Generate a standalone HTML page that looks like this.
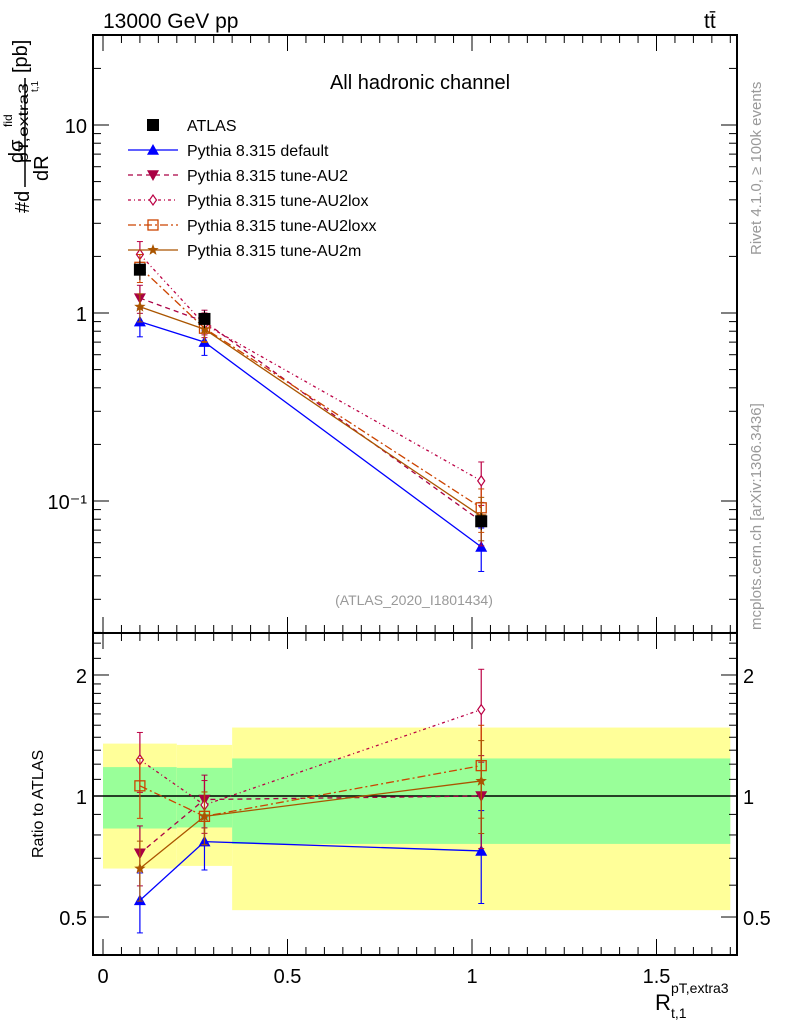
<!DOCTYPE html>
<html><head><meta charset="utf-8"><style>
body{margin:0;background:#fff;}
svg{display:block;font-family:"Liberation Sans",sans-serif;}
</style></head><body>
<svg id="c" width="786" height="1024" viewBox="0 0 786 1024">
<text x="103" y="28" font-size="21">13000 GeV pp</text>
<text x="704" y="28" font-size="21">tt̄</text>
<text x="420" y="89" font-size="20" text-anchor="middle">All hadronic channel</text>
<text x="414" y="605" font-size="14" fill="#999" text-anchor="middle">(ATLAS_2020_I1801434)</text>
<text transform="translate(761,255) rotate(-90)" font-size="15" fill="#999">Rivet 4.1.0, ≥ 100k events</text>
<text transform="translate(761,630) rotate(-90)" font-size="15" fill="#999">mcplots.cern.ch [arXiv:1306.3436]</text>
<g font-size="20">
<text transform="translate(29,213) rotate(-90)">#d</text>
<text transform="translate(23,163) rotate(-90)">dσ</text>
<text transform="translate(12,127) rotate(-90)" font-size="12">fid</text>
<text transform="translate(28,163) rotate(-90)" font-size="14" textLength="80" lengthAdjust="spacingAndGlyphs">pT,extra3</text>
<line x1="25" y1="187" x2="25" y2="78" stroke="#000" stroke-width="1.5"/>
<text transform="translate(48,181) rotate(-90)">dR</text>
<text transform="translate(38,92) rotate(-90)" font-size="10">t,1</text>
<text transform="translate(27,73) rotate(-90)">[pb]</text>
</g>
<text transform="translate(43,858) rotate(-90)" font-size="16">Ratio to ATLAS</text>
<g>
<text x="655" y="1010" font-size="22">R</text>
<text x="671" y="993" font-size="14">pT,extra3</text>
<text x="671" y="1018" font-size="14">t,1</text>
</g>
<g id="g"></g>
</svg>
<script>
const xCenters=[0.1,0.275,1.025];
const binEdges=[0,0.2,0.35,1.7];
const atlas=[1.7,0.93,0.078];
const atlasErr=[0.2,0.1,0.008];
const pDefault=[0.9,0.7,0.057];
const pAU2=[1.2,0.9,0.078];
const pAU2lox=[2.05,0.87,0.128];
const pAU2loxx=[1.75,0.83,0.092];
const pAU2m=[1.08,0.82,0.083];
const rDefault=[0.55,0.77,0.73];
const rAU2=[0.72,0.98,1.0];
const rAU2lox=[1.23,0.95,1.64];
const rAU2loxx=[1.06,0.89,1.19];
const rAU2m=[0.66,0.89,1.09];
const relErr=[0.17,0.15,0.26];
const yellowHi=[1.35,1.34,1.48];
const yellowLo=[0.66,0.67,0.52];
const greenHi=[1.18,1.175,1.24];
const greenLo=[0.83,0.835,0.76];
const mainTicks=[10,1,0.1];
const mainTickLabels=["10","1","10⁻¹"];
const ratioTicks=[2,1,0.5];
const ratioTickLabels=["2","1","0.5"];
const xTicks=[0,0.5,1,1.5];
const xTickLabels=["0","0.5","1","1.5"];

const L=93,R=737,T=35,M=633,B=955;
const X=v=>103+(v-0)*369;
const Y=v=>313-Math.log10(v)*188;
const YR=v=>796-Math.log10(v)*402;
const NS="http://www.w3.org/2000/svg";
const g=document.getElementById('g');
function mk(tag,at,parent){const e=document.createElementNS(NS,tag);for(const k in at)e.setAttribute(k,at[k]);(parent||g).appendChild(e);return e;}

for(let i=0;i<3;i++){
 let r=mk('rect',{x:X(binEdges[i]),y:YR(yellowHi[i]),width:X(binEdges[i+1])-X(binEdges[i]),height:YR(yellowLo[i])-YR(yellowHi[i]),fill:'#ffff99'});
 
 
 let r2=mk('rect',{x:X(binEdges[i]),y:YR(greenHi[i]),width:X(binEdges[i+1])-X(binEdges[i]),height:YR(greenLo[i])-YR(greenHi[i]),fill:'#99ff99'});
 
 
}
let one=mk('line',{x1:L,x2:R,y1:YR(1),y2:YR(1),stroke:'#000','stroke-width':1.5});



let f1=mk('rect',{x:L,y:T,width:R-L,height:M-T,fill:'none',stroke:'#000','stroke-width':2});


let f2=mk('rect',{x:L,y:M,width:R-L,height:B-M,fill:'none',stroke:'#000','stroke-width':2});



function tk(x1,y1,x2,y2){mk('line',{x1,y1,x2,y2,stroke:'#000','stroke-width':1});}
for(let d=-2;d<=1;d++)for(let m=1;m<10;m++){const v=m*Math.pow(10,d);const y=Y(v);if(y<T||y>M)continue;const len=m==1?16:8;tk(L,y,L+len,y);tk(R,y,R-len,y);}
mainTicks.forEach((v,i)=>{const t=mk('text',{x:L-6,y:Y(v)+8,'font-size':20,'text-anchor':'end'});t.textContent=mainTickLabels[i];});
const rminor=[0.5,0.6,0.7,0.8,0.9,1,1.1,1.2,1.3,1.4,1.5,1.6,1.7,1.8,1.9,2,2.2,2.4];
rminor.forEach(v=>{const y=YR(v);const len=(v==0.5||v==1||v==2)?16:8;tk(L,y,L+len,y);tk(R,y,R-len,y);});
ratioTicks.forEach((v,i)=>{let t=mk('text',{x:L-6,y:YR(v)+8,'font-size':20,'text-anchor':'end'});t.textContent=ratioTickLabels[i];
 let t2=mk('text',{x:R+6,y:YR(v)+8,'font-size':20});t2.textContent=ratioTickLabels[i];});
for(let k=0;k<=34;k++){const v=k*0.05;const x=X(v);if(x>R)continue;const len=k%10==0?16:8;tk(x,T,x,T+len);tk(x,M,x,M-len);tk(x,M,x,M+len);tk(x,B,x,B-len);}
xTicks.forEach((v,i)=>{let t=mk('text',{x:X(v),y:B+28,'font-size':20,'text-anchor':'middle'});t.textContent=xTickLabels[i];});

function marker(type,x,y,col,par){
 const s=6;
 if(type=='sq')mk('rect',{x:x-s,y:y-s,width:2*s,height:2*s,fill:'#000'},par);
 if(type=='tri')mk('polygon',{points:`${x},${y-s} ${x-s},${y+s*0.8} ${x+s},${y+s*0.8}`,fill:col},par);
 if(type=='dtri')mk('polygon',{points:`${x},${y+s} ${x-s},${y-s*0.8} ${x+s},${y-s*0.8}`,fill:col},par);
 if(type=='dia')mk('polygon',{points:`${x},${y-5} ${x-3.5},${y} ${x},${y+5} ${x+3.5},${y}`,fill:'#fff',stroke:col,'stroke-width':1.2},par);
 if(type=='osq')mk('rect',{x:x-5,y:y-5,width:10,height:10,fill:'none',stroke:col,'stroke-width':1.3},par);
 if(type=='star'){let p=[];for(let k=0;k<10;k++){const a=-Math.PI/2+k*Math.PI/5;const r=k%2?2.5:6;p.push((x+r*Math.cos(a)).toFixed(1)+','+(y+r*Math.sin(a)).toFixed(1));}mk('polygon',{points:p.join(' '),fill:col},par);}
}
const series=[
 {name:'pythia-default',label:'Pythia 8.315 default',col:'#0000ff',dash:'',m:'tri',v:pDefault,r:rDefault},
 {name:'pythia-tune-au2',label:'Pythia 8.315 tune-AU2',col:'#aa0044',dash:'5,4',m:'dtri',v:pAU2,r:rAU2},
 {name:'pythia-tune-au2lox',label:'Pythia 8.315 tune-AU2lox',col:'#bb0044',dash:'3,3,1,3',m:'dia',v:pAU2lox,r:rAU2lox},
 {name:'pythia-tune-au2loxx',label:'Pythia 8.315 tune-AU2loxx',col:'#cc4400',dash:'8,3,2,3',m:'osq',v:pAU2loxx,r:rAU2loxx},
 {name:'pythia-tune-au2m',label:'Pythia 8.315 tune-AU2m',col:'#aa5500',dash:'',m:'star',v:pAU2m,r:rAU2m}
];
series.forEach(s=>{
 const gg=mk('g',{});
 
 
 const pts=xCenters.map((x,i)=>X(x)+','+Y(s.v[i])).join(' ');
 mk('polyline',{points:pts,fill:'none',stroke:s.col,'stroke-width':1.3,'stroke-dasharray':s.dash},gg);
 const rp=xCenters.map((x,i)=>X(x)+','+YR(s.r[i])).join(' ');
 mk('polyline',{points:rp,fill:'none',stroke:s.col,'stroke-width':1.3,'stroke-dasharray':s.dash},gg);
 xCenters.forEach((x,i)=>{
  const e=relErr[i];
  mk('line',{x1:X(x),x2:X(x),y1:Y(s.v[i]*(1+e)),y2:Y(s.v[i]*(1-e)),stroke:s.col,'stroke-width':1.2},gg);
  mk('line',{x1:X(x),x2:X(x),y1:YR(s.r[i]*(1+e)),y2:YR(s.r[i]*(1-e)),stroke:s.col,'stroke-width':1.2},gg);
  [Y(s.v[i]*(1+e)),Y(s.v[i]*(1-e)),YR(s.r[i]*(1+e)),YR(s.r[i]*(1-e))].forEach(yy=>mk('line',{x1:X(x)-3,x2:X(x)+3,y1:yy,y2:yy,stroke:s.col},gg));
  marker(s.m,X(x),Y(s.v[i]),s.col,gg);
  marker(s.m,X(x),YR(s.r[i]),s.col,gg);
 });
});
const ag=mk('g',{});


xCenters.forEach((x,i)=>{
 mk('line',{x1:X(x),x2:X(x),y1:Y(atlas[i]+atlasErr[i]),y2:Y(atlas[i]-atlasErr[i]),stroke:'#000'},ag);
 marker('sq',X(x),Y(atlas[i]),'#000',ag);
});
const lg=mk('g',{});


let ly=125;
marker('sq',153,ly,'#000',lg);
let lt=mk('text',{x:187,y:ly+6,'font-size':16},lg);lt.textContent='ATLAS';
series.forEach((s,i)=>{
 const y=ly+25*(i+1);
 mk('line',{x1:128,x2:178,y1:y,y2:y,stroke:s.col,'stroke-width':1.3,'stroke-dasharray':s.dash},lg);
 marker(s.m,153,y,s.col,lg);
 let t=mk('text',{x:187,y:y+6,'font-size':16},lg);t.textContent=s.label;
 
 
});
</script>
</body></html>
